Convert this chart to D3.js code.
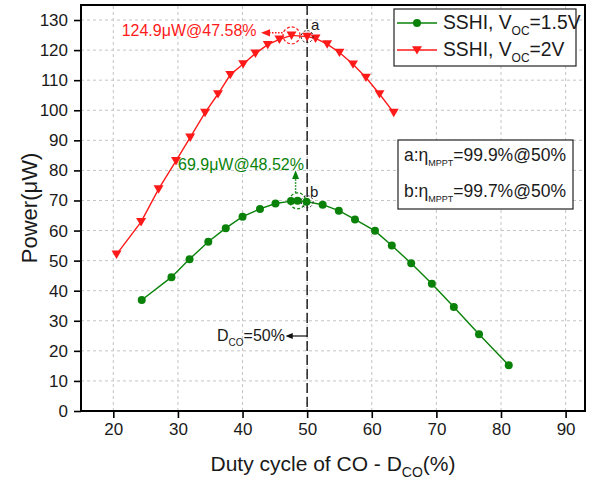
<!DOCTYPE html>
<html><head><meta charset="utf-8">
<script src="https://cdn.jsdelivr.net/npm/d3@7"></script>
<style>body{margin:0;background:#fff}svg{display:block;font-family:"Liberation Sans",Arial,sans-serif}</style>
</head><body><svg id="c" width="590" height="480"></svg>
<script>
// Data
const xTicks = [20,30,40,50,60,70,80,90];
const yTicks = [0,10,20,30,40,50,60,70,80,90,100,110,120,130];
const dutyGreen = [24.4,29.0,31.8,34.7,37.4,40.0,42.7,45.1,47.5,48.52,49.9,52.4,54.9,57.4,60.5,63.1,66.1,69.3,72.7,76.6,81.2];
const powerGreen = [36.9,44.5,50.5,56.3,60.8,64.6,67.2,69.0,69.8,69.9,69.6,68.6,66.6,63.7,59.9,55.0,49.1,42.3,34.6,25.5,15.2];
const dutyRed = [20.5,24.3,27.0,29.7,31.9,34.2,36.2,38.1,40.1,42.0,43.9,45.7,47.58,50.0,51.3,53.1,55.0,57.1,59.1,61.2,63.4];
const powerRed = [52.1,62.9,73.8,83.2,91.0,99.2,105.4,111.8,115.4,118.9,121.8,123.6,124.9,124.5,123.9,122.0,119.2,115.3,110.9,105.4,99.2];
const seriesNames = ["SSHI, V|OC|=1.5V","SSHI, V|OC|=2V"];

const W=590,H=480, m={l:81,t:5,r:5,b:69};
const svg=d3.select("#c");
const x=d3.scaleLinear().domain([15,93]).range([m.l,W-m.r]);
const y=d3.scaleLinear().domain([0,135]).range([H-m.b,m.t]);
const GREEN="#0a820a", RED="#ff1a1a", INK="#1a1a1a";

// grid
const g=svg.append("g");
g.selectAll("line.gx").data(xTicks).join("line").attr("x1",d=>x(d)).attr("x2",d=>x(d)).attr("y1",y(0)).attr("y2",m.t)
 .attr("stroke","#c4c4c4").attr("stroke-dasharray","3,3").attr("stroke-width",1);
g.selectAll("line.gy").data(yTicks.filter(d=>d>0)).join("line").attr("y1",d=>y(d)).attr("y2",d=>y(d)).attr("x1",m.l).attr("x2",W-m.r)
 .attr("stroke","#c4c4c4").attr("stroke-dasharray","3,3").attr("stroke-width",1);

// axes
const xMinor=d3.range(15,93,5);
const ax=svg.append("g").attr("transform",`translate(0,${y(0)})`);
ax.call(d3.axisBottom(x).tickValues(xMinor).tickSize(4).tickFormat(""));
ax.call(d3.axisBottom(x).tickValues(xTicks).tickSize(7).tickFormat(d3.format("d")));
ax.selectAll(".domain").remove();
ax.selectAll("line").attr("stroke","#000").attr("stroke-width",1.6);
ax.selectAll("text").attr("font-size",17).attr("fill",INK).attr("dy","0.71em").attr("y",12);
const ay=svg.append("g").attr("transform",`translate(${m.l},0)`);
ay.call(d3.axisLeft(y).tickValues(d3.range(5,135,10)).tickSize(4).tickFormat(""));
ay.call(d3.axisLeft(y).tickValues(yTicks).tickSize(7).tickFormat(d3.format("d")));
ay.selectAll(".domain").remove();
ay.selectAll("line").attr("stroke","#000").attr("stroke-width",1.6);
ay.selectAll("text").attr("font-size",17).attr("fill",INK).attr("x",-13);

// frame
svg.append("rect").attr("x",m.l).attr("y",m.t).attr("width",W-m.l-m.r).attr("height",H-m.t-m.b)
 .attr("fill","none").attr("stroke","#000").attr("stroke-width",2);

// vertical dashed line at 50
svg.append("line").attr("x1",x(50)).attr("x2",x(50)).attr("y1",m.t).attr("y2",y(0))
 .attr("stroke","#222").attr("stroke-width",1.5).attr("stroke-dasharray","10,4");

// series
const line=d3.line().x(d=>x(d[0])).y(d=>y(d[1]));
const gData=dutyGreen.map((d,i)=>[d,powerGreen[i]]);
const rData=dutyRed.map((d,i)=>[d,powerRed[i]]);
svg.append("path").attr("d",line(gData)).attr("fill","none").attr("stroke",GREEN).attr("stroke-width",1.4);
svg.append("path").attr("d",line(rData)).attr("fill","none").attr("stroke",RED).attr("stroke-width",1.4);
const tri="M-5,-3.8L5,-3.8L0,4.6Z";
svg.selectAll("circle.gm").data(gData).join("circle").attr("cx",d=>x(d[0])).attr("cy",d=>y(d[1])).attr("r",4).attr("fill",GREEN);
svg.selectAll("path.rm").data(rData).join("path").attr("d",tri).attr("transform",d=>`translate(${x(d[0])},${y(d[1])})`).attr("fill",RED);

// helper for text with subscript
function subText(sel,str,fs,subFs){
  const parts=str.split("|");
  parts.forEach((p,i)=>{
    const t=sel.append("tspan").text(p);
    if(i%2===1){t.attr("font-size",subFs).attr("dy",fs*0.3);}
    else if(i>0){t.attr("dy",-fs*0.3);}
  });
}

// annotations
const defs=svg.append("defs");
function marker(id,col){
  defs.append("marker").attr("id",id).attr("viewBox","0 0 10 10").attr("refX",5).attr("refY",5)
   .attr("markerWidth",6).attr("markerHeight",6).attr("orient","auto-start-reverse")
   .append("path").attr("d","M0,1L10,5L0,9Z").attr("fill",col);
}
marker("ar",RED);marker("ag",GREEN);marker("ak","#111");

const redPk=[47.58,124.9], grnPk=[48.52,69.9];
svg.append("circle").attr("cx",x(redPk[0])).attr("cy",y(redPk[1])).attr("r",8.5).attr("fill","none").attr("stroke",RED).attr("stroke-width",1.2).attr("stroke-dasharray","3,2");
svg.append("circle").attr("cx",x(grnPk[0])).attr("cy",y(grnPk[1])).attr("r",8).attr("fill","none").attr("stroke",GREEN).attr("stroke-width",1.2).attr("stroke-dasharray","3,2");
svg.append("circle").attr("cx",x(50)).attr("cy",y(124.5)).attr("r",6).attr("fill","none").attr("stroke","#222").attr("stroke-width",1).attr("stroke-dasharray","2,2");
svg.append("circle").attr("cx",x(50)).attr("cy",y(69.6)).attr("r",6).attr("fill","none").attr("stroke","#222").attr("stroke-width",1).attr("stroke-dasharray","2,2");

svg.append("line").attr("x1",x(redPk[0])-9).attr("x2",x(redPk[0])-26).attr("y1",y(redPk[1])-2.5).attr("y2",y(redPk[1])-2.5)
 .attr("stroke",RED).attr("stroke-width",1.5).attr("stroke-dasharray","1.5,1.5").attr("marker-end","url(#ar)");
svg.append("text").attr("x",x(redPk[0])-35).attr("y",36).attr("text-anchor","end").attr("font-size",16).attr("fill",RED).text("124.9μW@47.58%");
svg.append("line").attr("x1",x(grnPk[0])-2).attr("x2",x(grnPk[0])-2).attr("y1",y(grnPk[1])-8).attr("y2",y(grnPk[1])-26)
 .attr("stroke",GREEN).attr("stroke-width",1.5).attr("stroke-dasharray","1.5,1.5").attr("marker-end","url(#ag)");
svg.append("text").attr("x",178).attr("y",170).attr("font-size",16).attr("fill",GREEN).text("69.9μW@48.52%");
svg.append("text").attr("x",311).attr("y",30).attr("font-size",15).attr("fill",INK).text("a");
svg.append("text").attr("x",310).attr("y",197).attr("font-size",15).attr("fill",INK).text("b");

// D_CO arrow
svg.append("line").attr("x1",x(50)).attr("x2",x(50)-18).attr("y1",336).attr("y2",336).attr("stroke","#111").attr("stroke-width",1.2).attr("marker-end","url(#ak)");
const dt=svg.append("text").attr("x",217).attr("y",341).attr("font-size",16).attr("fill",INK);
subText(dt,"D|CO|=50%",16,10);

// legend
svg.append("rect").attr("x",394).attr("y",9).attr("width",182).attr("height",57).attr("fill","#fff").attr("stroke","#222").attr("stroke-width",1.2);
[[GREEN,23,"c"],[RED,50,"t"]].forEach((e,i)=>{
  svg.append("line").attr("x1",397).attr("x2",437).attr("y1",e[1]).attr("y2",e[1]).attr("stroke",e[0]).attr("stroke-width",1.4);
  if(e[2]==="c") svg.append("circle").attr("cx",417).attr("cy",e[1]).attr("r",4).attr("fill",e[0]);
  else svg.append("path").attr("d",tri).attr("transform",`translate(417,${e[1]})`).attr("fill",e[0]);
  const t=svg.append("text").attr("x",443).attr("y",e[1]+6).attr("font-size",19.3).attr("fill",INK);
  subText(t,seriesNames[i],19.3,12);
});

// efficiency box
svg.append("rect").attr("x",398).attr("y",140).attr("width",175).attr("height",69).attr("fill","#fff").attr("stroke","#222").attr("stroke-width",1.2);
const effLabels=["a:η|MPPT|=99.9%@50%","b:η|MPPT|=99.7%@50%"];
effLabels.forEach((s,i)=>{
  const t=svg.append("text").attr("x",404).attr("y",161+i*36).attr("font-size",17.5).attr("fill",INK);
  subText(t,s,17.5,9);
});

// axis titles
const xt=svg.append("text").attr("x",333).attr("y",471).attr("text-anchor","middle").attr("font-size",21).attr("fill",INK);
subText(xt,"Duty cycle of CO - D|CO|(%)",21,14);
svg.append("text").attr("transform","translate(37,208) rotate(-90)").attr("text-anchor","middle").attr("font-size",22).attr("fill",INK).text("Power(μW)");
</script></body></html>
